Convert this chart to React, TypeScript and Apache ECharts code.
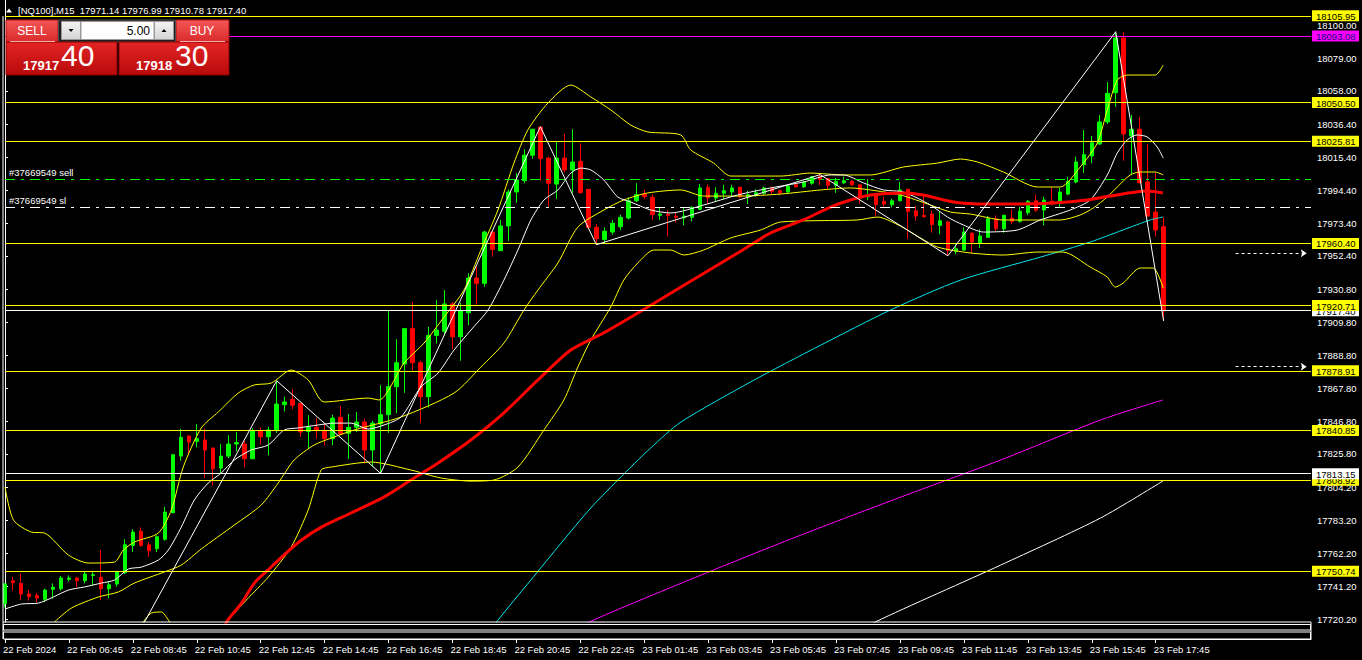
import React, { useEffect, useRef } from "react";
import * as echarts from "echarts";

// ---------- data ----------
const xTickBars = [0, 8, 16, 24, 32, 40, 48, 56, 64, 72, 80, 88, 96, 104, 112, 120, 128, 136, 144];
const xTickLabels = [
  "22 Feb 2024", "22 Feb 06:45", "22 Feb 08:45", "22 Feb 10:45", "22 Feb 12:45", "22 Feb 14:45",
  "22 Feb 16:45", "22 Feb 18:45", "22 Feb 20:45", "22 Feb 22:45", "23 Feb 01:45", "23 Feb 03:45",
  "23 Feb 05:45", "23 Feb 07:45", "23 Feb 09:45", "23 Feb 11:45", "23 Feb 13:45", "23 Feb 15:45",
  "23 Feb 17:45",
];
const yTicks = [18100.0, 18079.0, 18058.0, 18036.4, 18015.4, 17994.4, 17973.4, 17952.4, 17930.8, 17909.8,
  17888.8, 17867.8, 17846.8, 17825.8, 17804.2, 17783.2, 17762.2, 17741.2, 17720.2];

// [open, high, low, close]
const candles = [
  [17730.2, 17743.0, 17727.7, 17742.6], [17744.7, 17747.2, 17738.3, 17743.4], [17743.0, 17749.0, 17732.3, 17736.2],
  [17736.2, 17738.7, 17731.9, 17734.5], [17735.3, 17737.0, 17731.1, 17733.6], [17732.8, 17739.6, 17731.1, 17738.7],
  [17739.2, 17743.0, 17733.2, 17740.5], [17739.6, 17747.7, 17738.3, 17746.4], [17745.6, 17748.1, 17744.3, 17746.4],
  [17746.4, 17747.2, 17740.5, 17744.7], [17744.7, 17750.7, 17743.0, 17749.0], [17748.1, 17750.7, 17741.7, 17748.5],
  [17746.9, 17764.3, 17732.3, 17739.6], [17739.6, 17743.9, 17733.6, 17742.1], [17742.6, 17750.7, 17740.9, 17750.7],
  [17749.8, 17771.2, 17749.0, 17767.7], [17767.3, 17777.6, 17763.0, 17775.8], [17776.3, 17778.8, 17766.4, 17767.3],
  [17767.7, 17769.4, 17760.0, 17763.9], [17765.2, 17773.7, 17763.0, 17772.8], [17771.2, 17792.0, 17770.3, 17788.6],
  [17788.2, 17825.3, 17788.0, 17825.3], [17824.4, 17841.9, 17821.4, 17836.4], [17837.2, 17837.7, 17825.3, 17833.4],
  [17833.8, 17844.9, 17830.0, 17835.5], [17834.7, 17841.9, 17810.4, 17828.3], [17829.6, 17829.6, 17805.7, 17816.3],
  [17816.8, 17832.1, 17812.9, 17824.4], [17824.4, 17837.7, 17823.2, 17832.1], [17832.1, 17839.8, 17827.4, 17833.0],
  [17832.1, 17834.2, 17817.2, 17822.7], [17822.7, 17842.4, 17822.7, 17840.6], [17840.6, 17842.8, 17831.7, 17836.8],
  [17836.8, 17843.2, 17824.9, 17841.1], [17841.1, 17872.6, 17839.3, 17857.7], [17857.3, 17862.4, 17853.0, 17859.0],
  [17860.7, 17867.1, 17854.3, 17856.9], [17858.2, 17858.2, 17836.8, 17839.8], [17840.2, 17850.5, 17829.1, 17842.8],
  [17842.8, 17848.7, 17835.5, 17841.1], [17840.6, 17845.4, 17831.3, 17835.5], [17835.5, 17850.9, 17831.3, 17848.7],
  [17849.2, 17856.4, 17838.1, 17838.5], [17839.0, 17851.3, 17822.7, 17842.8], [17842.8, 17852.6, 17839.8, 17846.2],
  [17846.2, 17848.3, 17819.8, 17828.3], [17828.3, 17847.0, 17817.6, 17845.4], [17845.0, 17869.7, 17813.4, 17850.9],
  [17850.9, 17917.8, 17839.3, 17868.8], [17868.8, 17899.1, 17851.8, 17884.1], [17883.3, 17905.9, 17864.9, 17905.9],
  [17905.9, 17922.9, 17879.4, 17884.1], [17884.1, 17885.4, 17845.7, 17862.4], [17862.4, 17907.1, 17855.6, 17901.6],
  [17901.6, 17924.2, 17896.5, 17905.0], [17904.2, 17930.6, 17901.6, 17921.7], [17921.7, 17922.9, 17892.7, 17900.7],
  [17900.7, 17922.5, 17885.4, 17917.4], [17916.1, 17941.3, 17908.0, 17938.3], [17938.3, 17945.5, 17921.2, 17934.9],
  [17934.9, 17968.5, 17932.7, 17967.7], [17967.7, 17968.2, 17951.9, 17956.6], [17955.8, 17975.4, 17955.8, 17971.6],
  [17971.6, 17995.0, 17962.1, 17993.3], [17993.3, 18005.3, 17986.5, 18001.0], [18000.6, 18020.6, 17998.9, 18016.8],
  [18016.8, 18033.8, 18014.6, 18033.4], [18034.7, 18035.1, 18000.5, 18014.6], [18015.0, 18015.9, 17983.9, 17998.9],
  [17998.4, 18025.3, 17989.0, 18015.0], [18015.0, 18030.4, 18005.6, 18007.4], [18007.4, 18033.4, 17992.8, 18012.5],
  [18012.9, 18024.4, 17992.5, 17992.8], [17995.0, 17995.0, 17970.5, 17970.7], [17970.7, 17972.8, 17959.6, 17963.4],
  [17963.0, 17970.7, 17960.5, 17968.2], [17967.7, 17975.4, 17966.0, 17973.3], [17971.1, 17978.8, 17969.0, 17977.1],
  [17976.7, 17989.9, 17975.8, 17987.7], [17987.7, 17998.9, 17986.9, 17991.6], [17992.0, 17994.6, 17988.6, 17990.3],
  [17989.9, 17992.0, 17975.4, 17978.8], [17978.4, 17983.5, 17975.4, 17979.2], [17979.2, 17981.8, 17964.7, 17978.4],
  [17977.9, 17980.5, 17973.7, 17977.1], [17976.7, 17983.5, 17972.0, 17977.9], [17977.1, 17984.3, 17974.6, 17983.5],
  [17982.2, 17998.4, 17981.8, 17995.9], [17996.3, 17997.9, 17985.6, 17989.5], [17989.5, 17996.3, 17987.4, 17992.5],
  [17992.5, 17997.9, 17989.0, 17994.1], [17993.3, 17997.9, 17990.3, 17995.9], [17996.3, 17996.7, 17989.0, 17990.3],
  [17990.3, 17994.1, 17985.6, 17991.6], [17991.2, 17995.0, 17990.3, 17992.8], [17992.5, 17996.7, 17991.6, 17995.9],
  [17995.9, 17996.7, 17992.0, 17993.7], [17994.1, 17995.0, 17991.2, 17992.8], [17993.3, 17997.6, 17992.8, 17997.1],
  [17997.9, 17998.9, 17995.9, 17996.7], [17996.7, 18000.5, 17995.9, 17999.7], [17998.9, 18003.5, 17997.9, 18003.1],
  [18003.1, 18004.4, 17997.6, 18001.4], [18001.8, 18002.3, 17995.0, 17997.6], [17997.6, 18002.3, 17992.8, 18000.1],
  [17999.2, 18003.1, 17998.4, 18000.5], [18000.1, 18001.0, 17997.1, 17997.9], [17997.9, 17998.4, 17985.6, 17990.3],
  [17990.3, 18001.4, 17988.1, 17990.8], [17992.0, 17992.5, 17977.9, 17985.2], [17987.4, 17990.3, 17983.9, 17985.6],
  [17985.2, 17989.0, 17983.5, 17987.7], [17987.7, 17999.7, 17987.4, 17994.6], [17995.0, 17995.4, 17963.4, 17981.0],
  [17981.3, 17984.3, 17974.9, 17977.9], [17978.4, 17991.2, 17976.7, 17977.5], [17979.2, 17981.3, 17967.3, 17972.4],
  [17972.0, 17980.5, 17966.4, 17974.9], [17974.1, 17974.9, 17952.5, 17955.8], [17955.4, 17960.0, 17953.5, 17957.0],
  [17956.2, 17970.7, 17955.8, 17967.7], [17966.9, 17967.7, 17954.1, 17961.3], [17960.5, 17969.4, 17957.5, 17965.2],
  [17964.3, 17977.9, 17963.9, 17976.2], [17976.2, 17978.4, 17967.7, 17969.8], [17969.8, 17978.8, 17967.3, 17978.4],
  [17976.7, 17982.2, 17972.8, 17974.6], [17974.6, 17983.9, 17973.7, 17981.0], [17980.1, 17988.2, 17978.4, 17987.4],
  [17987.7, 17991.6, 17980.5, 17981.8], [17981.8, 17990.3, 17972.0, 17988.2], [17987.4, 17996.3, 17984.8, 17985.6],
  [17986.1, 17995.9, 17983.5, 17993.3], [17992.0, 18003.1, 17991.2, 18000.1], [17999.7, 18015.9, 17998.9, 18012.5],
  [18010.8, 18033.0, 18005.6, 18017.2], [18016.3, 18029.1, 18011.7, 18024.8], [18024.0, 18042.4, 18023.5, 18038.1],
  [18038.1, 18063.7, 18036.8, 18056.4], [18056.8, 18095.8, 18047.9, 18091.8], [18091.8, 18095.5, 18013.3, 18030.4],
  [18029.1, 18042.7, 18004.0, 18033.4], [18033.4, 18041.1, 17998.9, 17999.2], [17999.7, 18024.0, 17977.5, 17977.9],
  [17980.5, 18005.6, 17964.7, 17969.0], [17971.14, 17976.99, 17910.78, 17917.4],
];

// indicator lines, [bar, price]
const bbUpper = [[0, 17804.6], [1.06, 17783.5], [3.31, 17775.8], [4.94, 17775.2], [7.94, 17761.1], [10.44, 17756.0],
  [13.69, 17756.6], [14.81, 17764.3], [16.19, 17769.4], [19.19, 17775.2], [20.81, 17789.9], [22.31, 17817.4],
  [24.56, 17842.4], [26.69, 17852.6], [29.19, 17864.7], [31.19, 17869.9], [33.31, 17871.1], [35.81, 17879.4],
  [37.94, 17873.1], [39.94, 17859.0], [45.44, 17861.5], [46.81, 17860.3], [49.94, 17883.9], [52.44, 17896.7],
  [54.94, 17913.3], [57.44, 17930.6], [59.56, 17956.2], [61.69, 17981.8], [63.69, 18011.8], [65.44, 18033.0],
  [67.94, 18050.2], [70.81, 18061.7], [73.31, 18054.1], [75.81, 18045.8], [78.31, 18036.1], [80.44, 18031.7],
  [84.56, 18029.8], [85.81, 18020.2], [88.69, 18011.8], [90.81, 18003.5], [97.06, 18003.5], [100.81, 18005.4],
  [104.94, 18004.2], [108.31, 18004.2], [112.44, 18009.3], [116.69, 18011.8], [119.56, 18014.4], [121.69, 18012.5],
  [124.94, 18006.1], [129.19, 17996.5], [132.06, 17996.5], [134.56, 18009.3], [136.69, 18024.6], [137.94, 18045.7],
  [139.19, 18064.9], [140.44, 18068.1], [143.94, 18068.1], [144.94, 18074.5]];
const bbMiddle = [[6.19, 17718.3], [8.31, 17727.2], [11.69, 17734.3], [14.19, 17737.5], [16.19, 17743.2],
  [19.94, 17750.3], [22.06, 17754.7], [24.56, 17765.0], [28.69, 17780.3], [32.06, 17793.1], [34.19, 17807.2],
  [36.19, 17821.9], [38.69, 17831.5], [41.19, 17836.6], [43.69, 17841.1], [49.56, 17849.4], [56.19, 17864.7],
  [59.56, 17881.4], [62.44, 17896.7], [64.94, 17917.8], [66.69, 17930.6], [69.19, 17947.9], [71.69, 17970.9],
  [74.94, 17981.8], [77.44, 17988.2], [80.44, 17992.7], [84.56, 17994.6], [87.44, 17990.7], [92.06, 17990.7],
  [97.06, 17992.0], [102.06, 17994.6], [105.81, 17995.9], [108.31, 17994.6], [112.06, 17991.4], [115.81, 17985.0],
  [118.31, 17980.5], [120.81, 17979.2], [124.94, 17975.4], [129.19, 17975.4], [132.06, 17975.4], [134.56, 17978.6],
  [136.19, 17983.1], [137.94, 17990.1], [139.19, 17996.5], [140.81, 18004.2], [142.06, 18006.1], [143.94, 18006.1],
  [144.94, 18004.2]];
const bbLower = [[15.81, 17711.9], [17.06, 17717.0], [18.31, 17724.0], [19.56, 17724.7], [20.44, 17719.6],
  [21.44, 17711.9], [26.44, 17711.9], [27.94, 17719.6], [30.19, 17732.3], [32.94, 17747.0], [35.81, 17766.2],
  [37.94, 17789.9], [39.56, 17815.5], [40.81, 17817.4], [45.81, 17820.6], [50.81, 17815.5], [54.56, 17810.4],
  [58.31, 17808.4], [61.19, 17809.1], [64.19, 17817.4], [67.44, 17841.1], [69.94, 17860.3], [71.69, 17881.4],
  [73.31, 17898.6], [75.81, 17919.8], [77.44, 17937.0], [79.19, 17947.9], [81.19, 17956.2], [83.31, 17956.2],
  [84.94, 17953.0], [87.44, 17956.2], [90.81, 17963.9], [94.56, 17969.0], [97.06, 17974.1], [106.69, 17975.4],
  [109.19, 17977.3], [112.06, 17971.5], [114.56, 17963.9], [116.69, 17958.1], [120.81, 17954.3], [124.94, 17953.0],
  [129.19, 17954.9], [132.44, 17954.9], [135.81, 17945.3], [137.94, 17938.9], [138.94, 17932.5], [139.94, 17935.1],
  [142.06, 17944.7], [143.69, 17944.7], [144.94, 17931.9]];
const maWhite = [[0, 17726.6], [2.06, 17729.8], [4.19, 17730.4], [7.94, 17738.7], [9.94, 17740.7], [12.06, 17743.2],
  [13.69, 17745.1], [15.44, 17752.2], [17.06, 17753.4], [19.19, 17757.9], [20.44, 17764.3], [22.06, 17779.0],
  [23.69, 17796.3], [25.44, 17807.2], [27.06, 17813.6], [28.69, 17821.9], [30.81, 17828.3], [32.94, 17831.5],
  [34.94, 17841.1], [36.69, 17842.4], [39.19, 17844.3], [41.19, 17845.5], [43.31, 17845.5], [45.44, 17841.7],
  [47.44, 17844.3], [49.56, 17849.4], [52.06, 17868.6], [54.19, 17877.5], [56.19, 17892.2], [58.31, 17905.0],
  [60.44, 17917.8], [62.44, 17937.0], [64.19, 17956.2], [65.81, 17975.4], [67.44, 17988.2], [69.19, 17994.6],
  [70.81, 18005.4], [72.06, 18008.6], [73.31, 18007.4], [74.94, 18001.0], [76.69, 17990.1], [78.31, 17986.9],
  [80.81, 17981.8], [83.31, 17979.9], [87.44, 17985.0], [91.69, 17991.4], [95.81, 17995.9], [99.94, 17999.7],
  [103.31, 18004.2], [104.94, 18004.2], [107.44, 17999.1], [109.94, 17994.6], [112.44, 17993.3], [115.81, 17985.0],
  [117.94, 17977.3], [119.94, 17972.2], [122.44, 17967.7], [126.69, 17969.0], [129.56, 17975.4], [133.31, 17981.8],
  [135.81, 17988.2], [137.94, 18004.2], [139.19, 18018.2], [140.44, 18026.6], [141.69, 18029.8], [142.94, 18028.5],
  [144.19, 18022.1], [144.94, 18015.0]];
const maRed = [[27.06, 17711.9], [27.9, 17719.6], [29.6, 17730.4], [31.2, 17743.2], [32.9, 17751.5], [34.9, 17761.1],
  [37.1, 17770.7], [39.6, 17779.0], [43.3, 17788.0], [47.4, 17798.2], [50.8, 17809.1], [54.2, 17820.0],
  [58.3, 17834.7], [62.4, 17851.9], [66.7, 17873.1], [70.8, 17892.2], [74.9, 17903.1], [79.2, 17915.9],
  [84.6, 17932.5], [91.7, 17954.3], [95.8, 17967.1], [99.9, 17975.4], [103.3, 17983.7], [105.8, 17988.2],
  [108.3, 17991.4], [112.4, 17992.7], [114.9, 17991.4], [118.7, 17986.9], [122.9, 17985.6], [127.1, 17985.6],
  [131.2, 17986.3], [135.4, 17988.2], [138.3, 17990.7], [142.9, 17993.9], [144.9, 17992.7]];
const maCyan = [[60.8, 17711.9], [61.7, 17719.5], [65.8, 17745.1], [69.6, 17768.8], [73.3, 17791.2], [76.7, 17809.1],
  [80.8, 17829.6], [84.6, 17846.2], [93.3, 17871.8], [102.1, 17895.4], [110.8, 17917.8], [119.6, 17937.0],
  [129.6, 17951.7], [135.8, 17961.3], [139.9, 17969.0], [143.3, 17975.4], [144.9, 17977.3]];
const maMagenta = [[71.4, 17711.9], [73.1, 17718.3], [87.1, 17748.3], [99.6, 17773.9], [112.1, 17798.2],
  [124.6, 17821.9], [137.1, 17847.5], [144.9, 17860.3]];
const maWhiteLong = [[107.1, 17711.9], [108.9, 17718.3], [124.6, 17754.7], [137.1, 17784.8], [144.9, 17808.5]];
const zigzag = [[17, 17714.0], [34, 17872.6], [47, 17813.4], [67, 18035.1], [74, 17959.6], [102, 18004.4],
  [118, 17952.5], [139, 18095.8], [145, 17910.78]];

const yellowLevels = [18105.95, 18050.5, 18025.81, 17960.4, 17920.71, 17878.91, 17840.85, 17808.92, 17750.74];
const magentaLevel = 18093.08;
const whiteLevels = [17917.4, 17813.15];
const tradeOpen = 18001.4;
const tradeStop = 17983.5;
const alertLevels = [17954.1, 17881.6];
const header = { symbol: "[NQ100],M15", ohlc: "17971.14 17976.99 17910.78 17917.40" };
const lotSize = "5.00";
const sellPrice = ["17917", "40"];
const buyPrice = ["18918".replace("189", "179"), "30"];

const FONT = '"Liberation Sans", Arial, sans-serif';

export default function App() {
  const ref = useRef<HTMLDivElement>(null);
  useEffect(() => {
    if (!ref.current) return;
    const chart = echarts.init(ref.current, undefined, { renderer: "svg" });
    const lineS = (data: number[][], color: string, width = 1, smooth: number | boolean = 0.25, z = 3) => ({
      type: "line",
      xAxisIndex: 0,
      yAxisIndex: 0,
      data,
      symbol: "none",
      smooth,
      silent: true,
      z,
      lineStyle: { color, width },
    });
    const hl = (v: number, color: string, type: any = "solid") => ({ yAxis: v, lineStyle: { color, width: 1, type } });
    const option: any = {
      animation: false,
      backgroundColor: "#000000",
      textStyle: { fontFamily: FONT },
      grid: { left: 3.5, right: 51, top: 0, bottom: 38 },
      xAxis: {
        type: "value",
        min: 0,
        max: 163.4375,
        offset: 17,
        axisLine: { show: true, lineStyle: { color: "#ffffff", width: 1 } },
        axisTick: { show: true, length: 4, lineStyle: { color: "#ffffff" }, customValues: xTickBars },
        axisLabel: {
          customValues: xTickBars,
          formatter: (v: number) => {
            const i = xTickBars.indexOf(Math.round(v));
            return i >= 0 ? xTickLabels[i] : "";
          },
          color: "#ffffff",
          fontSize: 9.5,
          fontFamily: FONT,
          align: "left",
          margin: 5,
          padding: [0, 0, 0, -2],
        },
        splitLine: { show: false },
      },
      yAxis: {
        type: "value",
        position: "right",
        min: 17718.3,
        max: 18116.1,
        axisLine: { show: true, lineStyle: { color: "#ffffff", width: 1 } },
        axisTick: { show: true, length: 3, lineStyle: { color: "#ffffff" }, customValues: yTicks },
        axisLabel: {
          customValues: yTicks,
          formatter: (v: number) => v.toFixed(2),
          color: "#ffffff",
          fontSize: 9.5,
          fontFamily: FONT,
          margin: 6,
        },
        splitLine: { show: false },
      },
      series: [
        {
          type: "candlestick",
          xAxisIndex: 0,
          yAxisIndex: 0,
          silent: true,
          z: 2,
          barWidth: 4,
          dimensions: ["t", "open", "close", "lowest", "highest"],
          encode: { x: "t", y: ["open", "close", "lowest", "highest"] },
          data: candles.map((c, i) => [i, c[0], c[3], c[2], c[1]]),
          itemStyle: {
            color: "#00ff00",
            color0: "#ff0000",
            borderColor: "#00ff00",
            borderColor0: "#ff0000",
            borderWidth: 1,
          },
          markLine: {
            silent: true,
            symbol: ["none", "none"],
            label: { show: false },
            animation: false,
            data: [
              ...yellowLevels.map((v) => hl(v, "#ffff00")),
              hl(magentaLevel, "#ff00ff"),
              ...whiteLevels.map((v) => hl(v, "#ffffff")),
              hl(tradeOpen, "#00ff00", [10, 6, 3, 6]),
              hl(tradeStop, "#ffffff", [10, 6, 3, 6]),
              ...alertLevels.map((v) => [
                { coord: [154, v], symbol: "none", lineStyle: { color: "#ffffff", width: 1, type: [3, 3] } },
                { coord: [162.9, v], symbol: "arrow", symbolSize: 6 },
              ]),
            ],
          },
        },
        lineS(maWhiteLong, "#ffffff"),
        lineS(maMagenta, "#ff00ff"),
        lineS(maCyan, "#00e5ee"),
        lineS(bbUpper, "#ffff00"),
        lineS(bbMiddle, "#ffff00"),
        lineS(bbLower, "#ffff00"),
        lineS(maWhite, "#ffffff"),
        lineS(maRed, "#ff0000", 3, 0.25, 4),
        lineS(zigzag, "#ffffff", 1, false, 5),
      ],
    };
    chart.setOption(option);

    const py = (v: number) => chart.convertToPixel({ yAxisIndex: 0 }, v) as number;
    const g: any[] = [];
    const txt = (x: number, y: number, text: string, fill: string, font: string, align = "left", va = "middle", z = 110) => ({
      type: "text",
      x,
      y,
      z,
      silent: true,
      style: { text, fill, font, textAlign: align, align, textVerticalAlign: va, verticalAlign: va },
    });
    // frame
    g.push({ type: "line", z: 90, silent: true, shape: { x1: 3, y1: 16, x2: 3, y2: 639 }, style: { stroke: "#ffffff", lineWidth: 1 } });
    g.push({ type: "line", z: 90, silent: true, shape: { x1: 3, y1: 622, x2: 1311, y2: 622 }, style: { stroke: "#ffffff", lineWidth: 1 } });
    g.push({ type: "line", z: 90, silent: true, shape: { x1: 1311, y1: 622, x2: 1311, y2: 639 }, style: { stroke: "#ffffff", lineWidth: 1 } });
    g.push({ type: "rect", z: 90, silent: true, shape: { x: 3.5, y: 624.5, width: 1307, height: 5.5 }, style: { fill: "none", stroke: "#ffffff", lineWidth: 1 } });
    g.push({ type: "rect", z: 90, silent: true, shape: { x: 3.5, y: 632, width: 1307, height: 7 }, style: { fill: "none", stroke: "#ffffff", lineWidth: 1 } });

    // price tags
    const tags = [
      ...yellowLevels.map((v) => ({ v, bg: "#ffff00", fg: "#000000" })),
      { v: magentaLevel, bg: "#ff00ff", fg: "#10107a" },
      ...whiteLevels.map((v) => ({ v, bg: "#ffffff", fg: "#000000" })),
    ].sort((a, b) => a.v - b.v);
    tags.forEach((t, i) => {
      const y = py(t.v);
      g.push({ type: "rect", z: 120 + i * 2, silent: true, shape: { x: 1312, y: y - 5.5, width: 47, height: 11 }, style: { fill: t.bg } });
      g.push(txt(1316, y + 0.5, t.v.toFixed(2), t.fg, `9.5px ${FONT}`, "left", "middle", 121 + i * 2));
    });

    // trade labels
    g.push(txt(9, py(tradeOpen) - 7, "#37669549 sell", "#ffffff", `9.5px ${FONT}`));
    g.push(txt(9, py(tradeStop) - 7, "#37669549 sl", "#ffffff", `9.5px ${FONT}`));

    // header
    g.push({ type: "polygon", z: 110, silent: true, shape: { points: [[6, 12.5], [9, 8.5], [12, 12.5]] }, style: { fill: "#ffffff" } });
    g.push(txt(18, 10.5, header.symbol + "  " + header.ohlc, "#ffffff", `9.5px ${FONT}`));

    // one-click trading panel
    const grad = (a: string, b: string) => new echarts.graphic.LinearGradient(0, 0, 0, 1, [{ offset: 0, color: a }, { offset: 1, color: b }]);
    g.push({ type: "rect", z: 100, silent: true, shape: { x: 6, y: 20, width: 52, height: 22 }, style: { fill: grad("#f45656", "#d92a2a"), stroke: "#b01010", lineWidth: 1 } });
    g.push({ type: "rect", z: 100, silent: true, shape: { x: 176, y: 20, width: 53, height: 22 }, style: { fill: grad("#f45656", "#d92a2a"), stroke: "#b01010", lineWidth: 1 } });
    g.push({ type: "line", z: 101, silent: true, shape: { x1: 10, y1: 41.5, x2: 55, y2: 41.5 }, style: { stroke: "#f0b0b0", lineWidth: 1 } });
    g.push({ type: "line", z: 101, silent: true, shape: { x1: 180, y1: 41.5, x2: 225, y2: 41.5 }, style: { stroke: "#f0b0b0", lineWidth: 1 } });
    g.push({ type: "rect", z: 100, silent: true, shape: { x: 58.5, y: 20, width: 117, height: 22 }, style: { fill: "#1e1e1e", stroke: "#505050", lineWidth: 1 } });
    g.push({ type: "rect", z: 101, silent: true, shape: { x: 61.5, y: 21.5, width: 19, height: 18 }, style: { fill: grad("#f4f4f4", "#d4d4d4"), stroke: "#9a9a9a", lineWidth: 1 } });
    g.push({ type: "rect", z: 101, silent: true, shape: { x: 81, y: 21.5, width: 73, height: 18 }, style: { fill: "#ffffff", stroke: "#9a9a9a", lineWidth: 1 } });
    g.push({ type: "rect", z: 101, silent: true, shape: { x: 154.5, y: 21.5, width: 19, height: 18 }, style: { fill: grad("#f4f4f4", "#d4d4d4"), stroke: "#9a9a9a", lineWidth: 1 } });
    g.push({ type: "polygon", z: 102, silent: true, shape: { points: [[68.5, 29], [73.5, 29], [71, 32]] }, style: { fill: "#000000" } });
    g.push({ type: "polygon", z: 102, silent: true, shape: { points: [[161.5, 32], [166.5, 32], [164, 29]] }, style: { fill: "#000000" } });
    g.push(txt(150, 31, lotSize, "#000000", `12px ${FONT}`, "right", "middle", 103));
    g.push({ type: "rect", z: 100, silent: true, shape: { x: 6, y: 42, width: 111, height: 33 }, style: { fill: grad("#e42424", "#b80a0a"), stroke: "#8a0000", lineWidth: 1 } });
    g.push({ type: "rect", z: 100, silent: true, shape: { x: 119, y: 42, width: 110, height: 33 }, style: { fill: grad("#e42424", "#b80a0a"), stroke: "#8a0000", lineWidth: 1 } });
    g.push(txt(32, 31, "SELL", "#ffffff", `12px ${FONT}`, "center", "middle", 103));
    g.push(txt(202, 31, "BUY", "#ffffff", `12px ${FONT}`, "center", "middle", 103));
    g.push(txt(23, 72, sellPrice[0], "#ffffff", `bold 13px ${FONT}`, "left", "bottom", 103));
    g.push(txt(61, 70, sellPrice[1], "#ffffff", `30px ${FONT}`, "left", "bottom", 103));
    g.push(txt(136, 72, buyPrice[0], "#ffffff", `bold 13px ${FONT}`, "left", "bottom", 103));
    g.push(txt(175, 70, buyPrice[1], "#ffffff", `30px ${FONT}`, "left", "bottom", 103));

    chart.setOption({ graphic: g });
    return () => chart.dispose();
  }, []);
  return (
    <div
      ref={ref}
      style={{ position: "fixed", left: 0, top: 0, width: 1362, height: 660, background: "#000000" }}
    />
  );
}
